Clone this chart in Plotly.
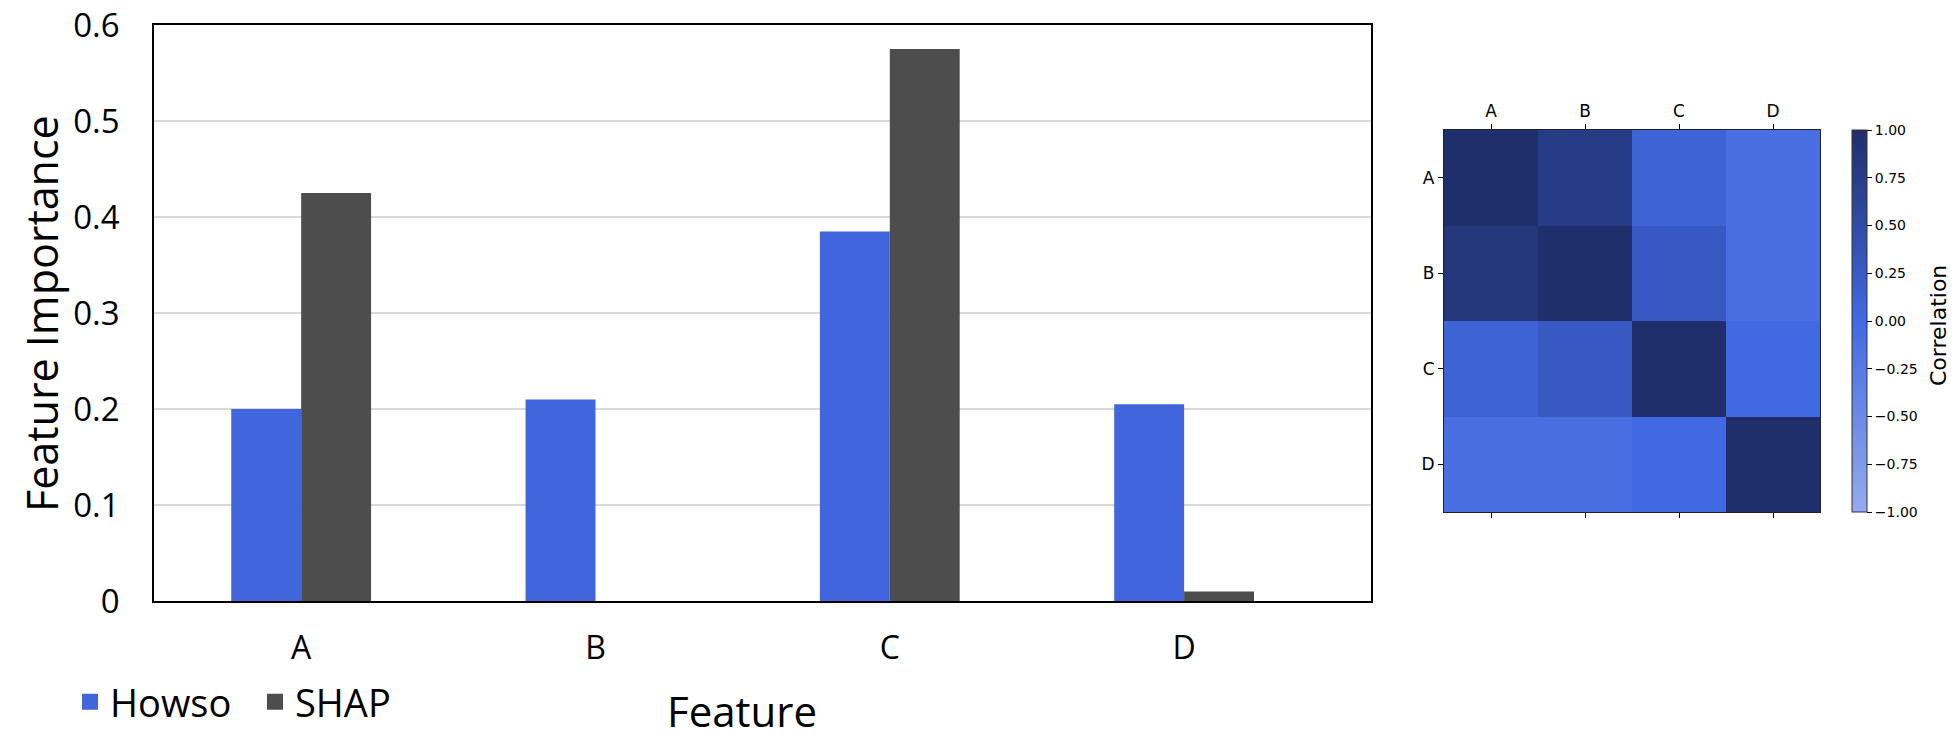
import plotly.graph_objects as go

# ---- data ----
features = ["A", "B", "C", "D"]
howso_importance = [0.200, 0.210, 0.385, 0.205]
shap_importance = [0.425, 0.0, 0.575, 0.010]

y_tick_vals = [0, 0.1, 0.2, 0.3, 0.4, 0.5, 0.6]
y_tick_text = ["0", "0.1", "0.2", "0.3", "0.4", "0.5", "0.6"]

corr_labels = ["A", "B", "C", "D"]
corr_rows = [
    [1.00, 0.78, 0.10, -0.08],
    [0.87, 1.00, 0.27, -0.08],
    [0.10, 0.27, 1.00, 0.00],
    [-0.08, -0.08, 0.00, 1.00],
]
cbar_vals = [-1.0, -0.75, -0.5, -0.25, 0.0, 0.25, 0.5, 0.75, 1.0]
cbar_text = ["\u22121.00", "\u22120.75", "\u22120.50", "\u22120.25", "0.00", "0.25", "0.50", "0.75", "1.00"]

HOWSO_COLOR = "#4065DD"
SHAP_COLOR = "#4D4D4D"

W, H = 1959, 755

def px_x(p):
    return p / W

def px_y(p):
    return 1 - p / H

fig = go.Figure()

fig.add_trace(go.Bar(
    x=features, y=howso_importance, name="Howso",
    marker=dict(color=HOWSO_COLOR, line=dict(width=0)),
    xaxis="x", yaxis="y", showlegend=False,
))
fig.add_trace(go.Bar(
    x=features, y=shap_importance, name="SHAP",
    marker=dict(color=SHAP_COLOR, line=dict(width=0)),
    xaxis="x", yaxis="y", showlegend=False,
))
# legend-only proxies with larger square swatches
for nm, col in [("Howso", HOWSO_COLOR), ("SHAP", SHAP_COLOR)]:
    fig.add_trace(go.Scatter(
        x=[None], y=[None], mode="markers", name=nm,
        marker=dict(symbol="square", size=22, color=col),
        xaxis="x", yaxis="y", showlegend=True,
    ))

fig.add_trace(go.Heatmap(
    x=corr_labels, y=corr_labels, z=corr_rows,
    zmin=-1, zmax=1,
    colorscale=[[0.0, "#96AAEE"], [0.5, "#4169E1"], [1.0, "#1F2F6B"]],
    xaxis="x2", yaxis="y2",
    showlegend=False,
    colorbar=dict(
        x=px_x(1852), xanchor="left",
        y=(px_y(130) + px_y(512)) / 2, yanchor="middle",
        len=(512 - 130) / H, lenmode="fraction",
        thickness=15, thicknessmode="pixels",
        outlinecolor="#333333", outlinewidth=1,
        tickvals=cbar_vals, ticktext=cbar_text,
        ticks="outside", ticklen=5, tickcolor="#000000",
        tickfont=dict(family="DejaVu Sans", size=14, color="#000000"),
        xpad=0, ypad=0,
    ),
))

fig.update_layout(
    width=W, height=H,
    autosize=False,
    margin=dict(l=0, r=0, t=0, b=0, pad=0, autoexpand=False),
    paper_bgcolor="white", plot_bgcolor="white",
    barmode="group", bargap=0.525, bargroupgap=0,
    font=dict(family="Open Sans", color="#000000"),
    showlegend=True,
    legend=dict(
        orientation="h", x=px_x(70), y=px_y(702), xanchor="left", yanchor="middle",
        font=dict(family="Open Sans", size=38, color="#000000"),
        itemwidth=30, tracegroupgap=0, bgcolor="rgba(0,0,0,0)",
        itemsizing="trace", entrywidth=140, entrywidthmode="pixels",
    ),
    xaxis=dict(
        domain=[px_x(154), px_x(1371)],
        range=[-0.5, 3.635],
        showline=True, linecolor="#000000", linewidth=1.5, mirror=True,
        ticks="", showgrid=False, automargin=False,
        tickfont=dict(family="Open Sans", size=32, color="#000000"),
        ticklabelstandoff=18,
        fixedrange=True,
    ),
    yaxis=dict(
        domain=[px_y(601), px_y(25)],
        range=[0, 0.6],
        showline=True, linecolor="#000000", linewidth=1.5, mirror=True,
        tickvals=y_tick_vals, ticktext=y_tick_text,
        ticks="", showgrid=True, gridcolor="#D9D9D9", gridwidth=1.5,
        zeroline=False, automargin=False,
        ticklabeloverflow="allow",
        tickfont=dict(family="Open Sans", size=33, color="#000000"),
        ticklabelstandoff=26,
    ),
    xaxis2=dict(
        domain=[px_x(1444), px_x(1820)], anchor="y2",
        side="top", showline=True, linecolor="#222222", linewidth=1.2,
        mirror="ticks", ticks="outside", ticklen=5, tickcolor="#000000",
        showgrid=False, zeroline=False, automargin=False,
        tickfont=dict(family="DejaVu Sans", size=17, color="#000000"),
    ),
    yaxis2=dict(
        domain=[px_y(512), px_y(130)], anchor="x2",
        autorange="reversed",
        showline=True, linecolor="#222222", linewidth=1.2,
        mirror=True, ticks="outside", ticklen=5, tickcolor="#000000",
        showgrid=False, zeroline=False, automargin=False,
        tickfont=dict(family="DejaVu Sans", size=17, color="#000000"),
    ),
    annotations=[
        dict(text="Feature Importance", x=px_x(41), y=px_y(314), xref="paper", yref="paper",
             textangle=-90, showarrow=False, xanchor="center", yanchor="middle",
             font=dict(family="Open Sans", size=43, color="#000000")),
        dict(text="Feature", x=px_x(742), y=px_y(710), xref="paper", yref="paper",
             showarrow=False, xanchor="center", yanchor="middle",
             font=dict(family="Open Sans", size=42, color="#000000")),
        dict(text="Correlation", x=px_x(1938), y=px_y(326), xref="paper", yref="paper",
             textangle=-90, showarrow=False, xanchor="center", yanchor="middle",
             font=dict(family="DejaVu Sans", size=22, color="#000000")),
    ],
)

fig.write_html(
    "out.html",
    config={"displayModeBar": False},
    post_script="document.body.style.margin='0px'; document.body.style.padding='0px';",
)
